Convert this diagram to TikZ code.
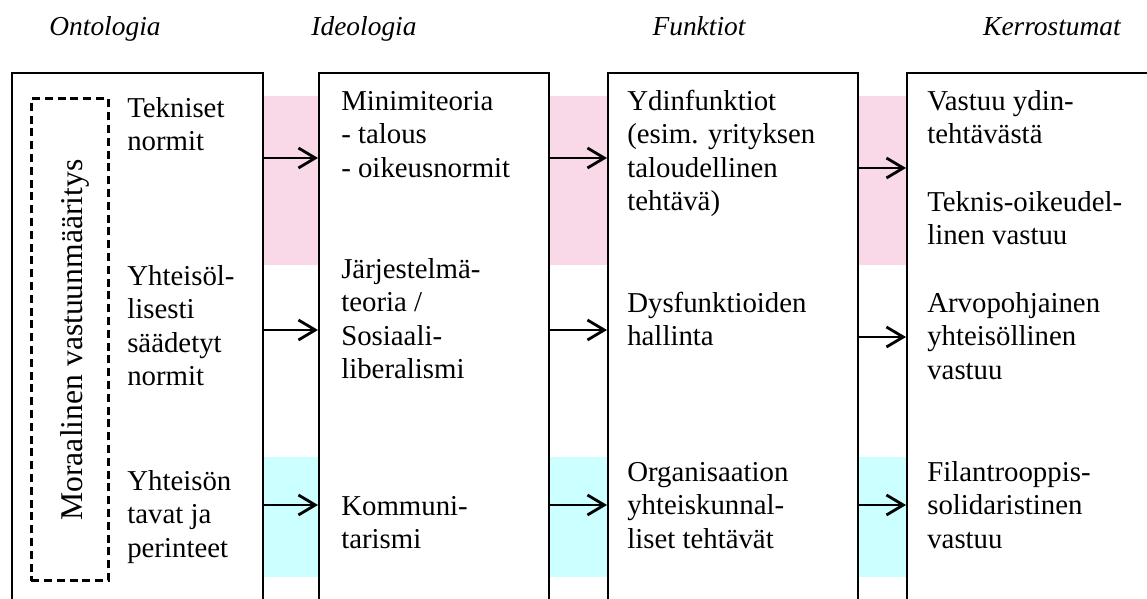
\documentclass[tikz,border=0pt]{standalone}
\usepackage{fontspec}
\setmainfont{Liberation Serif}
\usetikzlibrary{arrows.meta}
\definecolor{bandpink}{RGB}{249,216,231}
\definecolor{bandcyan}{RGB}{204,255,255}
\tikzset{
  colbox/.style={draw, line width=1.4pt, anchor=north west, inner sep=0pt, minimum height=14.2cm},
  celltext/.style={anchor=north west, inner sep=0pt, align=left, font=\fontsize{20.5}{23.8}\selectfont},
  header/.style={anchor=base, inner sep=0pt, font=\fontsize{19.5}{23}\selectfont\itshape},
  flow/.style={line width=2pt, -{Straight Barb[length=0.42cm,width=0.5cm]}},
}
\begin{document}
\begin{tikzpicture}
            \useasboundingbox (0,0) rectangle (28.675,14.95);
            \clip (0,0) rectangle (28.675,14.95);

            % Drawing shaded bands between columns
            \fill [bandpink] (6.550,12.550) rectangle (7.950,8.325);%
            \fill [bandpink] (13.700,12.550) rectangle (15.175,8.325);%
            \fill [bandpink] (21.425,12.550) rectangle (22.650,8.325);%
            \fill [bandcyan] (6.550,3.525) rectangle (7.950,0.525);%
            \fill [bandcyan] (13.700,3.525) rectangle (15.175,0.525);%
            \fill [bandcyan] (21.425,3.525) rectangle (22.650,0.525);%

            % Drawing column boxes
            \node [colbox, minimum width=6.275cm] (ont) at (0.275,13.150) {};%
            \node [colbox, minimum width=5.750cm] (ide) at (7.950,13.150) {};%
            \node [colbox, minimum width=6.250cm] (fun) at (15.175,13.150) {};%
            \node [colbox, minimum width=7.000cm] (ker) at (22.650,13.150) {};%

            % Column headers
            \node [header] (hont) at (2.625,14.050) {Ontologia};%
            \node [header] (hide) at (9.100,14.050) {Ideologia};%
            \node [header] (hfun) at (17.475,14.050) {Funktiot};%
            \node [header] (hker) at (26.300,14.050) {Kerrostumat};%

            % Dashed frame with rotated label
            \node [draw, line width=1.8pt, dash pattern=on 0.2cm off 0.12cm, anchor=south west,
                   inner sep=0pt, minimum width=1.925cm, minimum height=12.05cm] (frame) at (0.750,0.400) {};%
            \node [rotate=90, anchor=base, inner sep=0pt, font=\fontsize{22.5}{26}\selectfont] (moral) at (2.050,6.450) {Moraalinen vastuunmääritys};%

            % Ontologia texts
            \node [celltext] (ontA) at (3.175,12.610) {\strut Tekniset\\normit};%
            \node [celltext] (ontB) at (3.175,8.410) {\strut Yhteisöl-\\lisesti\\säädetyt\\normit};%
            \node [celltext] (ontC) at (3.175,3.285) {\strut Yhteisön\\tavat ja\\perinteet};%

            % Ideologia texts
            \node [celltext] (ideA) at (8.525,12.785) {\strut Minimiteoria\\- talous\\- oikeusnormit};%
            \node [celltext] (ideB) at (8.525,8.585) {\strut Järjestelmä-\\teoria /\\Sosiaali-\\liberalismi};%
            \node [celltext] (ideC) at (8.525,2.660) {\strut Kommuni-\\tarismi};%

            % Funktiot texts
            \node [celltext] (funA) at (15.675,12.785) {\strut Ydinfunktiot\\(esim. yrityksen\\taloudellinen\\tehtävä)};%
            \node [celltext] (funB) at (15.675,7.735) {\strut Dysfunktioiden\\hallinta};%
            \node [celltext] (funC) at (15.675,3.510) {\strut Organisaation\\yhteiskunnal-\\liset tehtävät};%

            % Kerrostumat texts
            \node [celltext] (kerA) at (23.175,12.785) {\strut Vastuu ydin-\\tehtävästä};%
            \node [celltext] (kerT) at (23.175,10.260) {\strut Teknis-oikeudel-\\linen vastuu};%
            \node [celltext] (kerB) at (23.175,7.735) {\strut Arvopohjainen\\yhteisöllinen\\vastuu};%
            \node [celltext] (kerC) at (23.175,3.510) {\strut Filantrooppis-\\solidaristinen\\vastuu};%

            % Row heights of arrows
            \coordinate (rowa) at (0,11.000);%
            \coordinate (rowaa) at (0,10.750);%
            \coordinate (rowb) at (0,6.700);%
            \coordinate (rowbb) at (0,6.525);%
            \coordinate (rowc) at (0,2.325);%

            % Drawing arrows between columns
            \draw [flow] (ont.east |- rowa) -- (ide.west |- rowa);%
            \draw [flow] (ide.east |- rowa) -- (fun.west |- rowa);%
            \draw [flow] (fun.east |- rowaa) -- (ker.west |- rowaa);%
            \draw [flow] (ont.east |- rowb) -- (ide.west |- rowb);%
            \draw [flow] (ide.east |- rowb) -- (fun.west |- rowb);%
            \draw [flow] (fun.east |- rowbb) -- (ker.west |- rowbb);%
            \draw [flow] (ont.east |- rowc) -- (ide.west |- rowc);%
            \draw [flow] (ide.east |- rowc) -- (fun.west |- rowc);%
            \draw [flow] (fun.east |- rowc) -- (ker.west |- rowc);%
        \end{tikzpicture}
\end{document}
